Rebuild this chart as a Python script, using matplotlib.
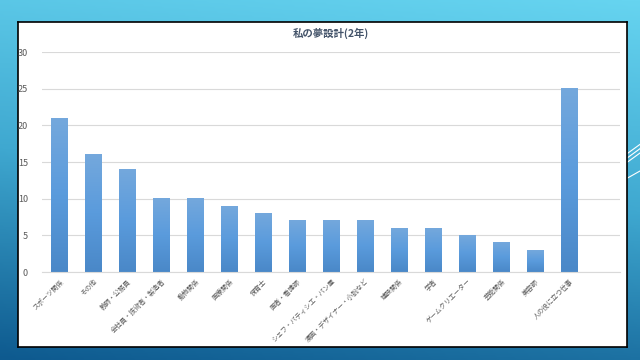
import numpy as np
import matplotlib.pyplot as plt
from matplotlib.colors import LinearSegmentedColormap

plt.rcParams['font.family'] = ['Noto Sans CJK JP', 'DejaVu Sans']

categories = ['スポーツ関係', 'その他', '教師・公務員', '会社員・技術者・製造者', '動物関係',
              '医療関係', '保育士', '医者・看護師', 'シェフ・パティシエ・パン屋',
              '漫画・デザイナー・小説など', '建設関係', '学者', 'ゲームクリエーター',
              '芸能関係', '美容師', '人の役に立つ仕事']
values = [21, 16, 14, 10, 10, 9, 8, 7, 7, 7, 6, 6, 5, 4, 3, 25]
yticks = [0, 5, 10, 15, 20, 25, 30]

W, H = 640, 360
fig = plt.figure(figsize=(W / 100, H / 100), dpi=100)

# slide background gradient
bg = fig.add_axes([0, 0, 1, 1])
yy, xx = np.mgrid[0:1:200j, 0:1:200j]
t = np.clip(yy * 0.85 + (1 - xx) * 0.15, 0, 1)
bg_cmap = LinearSegmentedColormap.from_list('bg', ['#66d4f0', '#3fa8d0', '#0e5a8f'])
bg.imshow(t, cmap=bg_cmap, extent=[0, 1, 0, 1], aspect='auto', origin='upper')
for dy in [0, 0.012, 0.024]:
    bg.plot([0.965, 1.0], [0.53 + dy, 0.575 + dy], color='white', lw=0.8)
bg.plot([0.965, 1.0], [0.49, 0.525], color='white', lw=0.8)
bg.set_xlim(0, 1)
bg.set_ylim(0, 1)
bg.axis('off')

# white chart box
box = fig.add_axes([18 / W, 1 - 347 / H, (627 - 18) / W, (347 - 22) / H])
box.set_facecolor('white')
box.set_xticks([])
box.set_yticks([])
for s in box.spines.values():
    s.set_color('black')
    s.set_linewidth(1.2)

ax = fig.add_axes([42 / W, 1 - 272 / H, (620 - 42) / W, (272 - 52) / H])
ax.patch.set_alpha(0)
x = np.arange(len(categories))
bar_cmap = LinearSegmentedColormap.from_list('bar', ['#4a88c8', '#5a9bdc', '#74a8dd'])
grad = np.linspace(0, 1, 100).reshape(-1, 1)
bw = 0.5
for xi, v in zip(x, values):
    ax.imshow(grad, cmap=bar_cmap, extent=[xi - bw / 2, xi + bw / 2, 0, v],
              aspect='auto', origin='lower', zorder=2)
ax.set_xlim(-0.5, len(categories) + 0.5)
ax.set_ylim(0, 30)
ax.set_yticks(yticks)
ax.yaxis.grid(True, color='#d9d9d9', lw=0.8)
ax.set_axisbelow(True)
for s in ['top', 'right', 'left']:
    ax.spines[s].set_visible(False)
ax.spines['bottom'].set_color('#d9d9d9')
ax.tick_params(axis='both', length=0)
ax.tick_params(axis='y', labelsize=6.5, labelcolor='#595959', pad=10)
ax.set_xticks(x)
ax.set_xticklabels(categories, rotation=45, ha='right', va='top',
                   rotation_mode='anchor', fontsize=4.8, color='#595959')
ax.tick_params(axis='x', pad=4)

fig.text(331 / W, 1 - 33 / H, '私の夢設計(2年)', ha='center', va='center',
         fontsize=7.5, fontweight='bold', color='#44546a')

fig.savefig('out.png', dpi=100)
